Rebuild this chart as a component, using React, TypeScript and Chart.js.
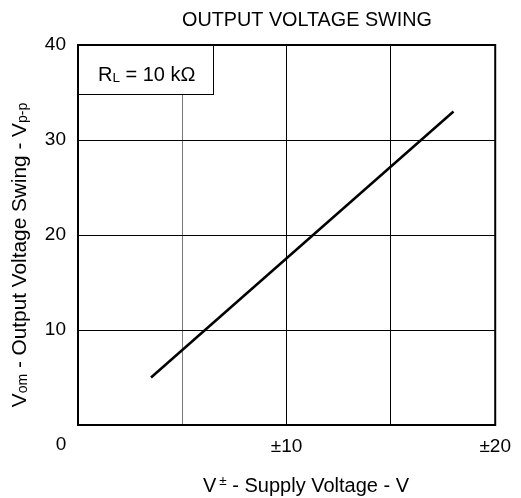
import { useEffect, useRef } from 'react';
import { Chart, registerables } from 'chart.js';

Chart.register(...registerables);

// ---- data ----
const supplyVoltage = [3.5, 18];
const outputSwing = [5, 33];
const xTickLabels: Record<number, string> = { 10: '±10', 20: '±20' };
const yTickLabels: Record<number, string> = { 10: '10', 20: '20', 30: '30', 40: '40' };
const chartTitle = 'OUTPUT VOLTAGE SWING';
const loadLabel = ['R', 'L', ' = 10 kΩ'];

const FONT = '"Liberation Sans", Arial, Helvetica, sans-serif';

type Seg = { t: string; size: number; dy: number; dx?: number };

function drawSegs(ctx: CanvasRenderingContext2D, segs: Seg[], x: number, y: number, align: 'left' | 'center') {
  let total = 0;
  const widths = segs.map((s) => {
    ctx.font = `${s.size}px ${FONT}`;
    const w = ctx.measureText(s.t).width + (s.dx || 0);
    total += w;
    return w;
  });
  let cx = align === 'center' ? x - total / 2 : x;
  ctx.textAlign = 'left';
  ctx.textBaseline = 'alphabetic';
  segs.forEach((s, i) => {
    ctx.font = `${s.size}px ${FONT}`;
    ctx.fillText(s.t, cx + (s.dx || 0), y + s.dy);
    cx += widths[i];
  });
}

const decorPlugin = {
  id: 'decor',
  afterDraw(chart: any) {
    const ctx: CanvasRenderingContext2D = chart.ctx;
    const { left, right, top, bottom } = chart.chartArea;
    ctx.save();
    ctx.fillStyle = '#000';

    // legend box
    ctx.fillStyle = '#fff';
    ctx.fillRect(left, top, 135, 49);
    ctx.strokeStyle = '#000';
    ctx.lineWidth = 1;
    ctx.strokeRect(left + 0.5, top + 0.5, 135, 49);
    ctx.fillStyle = '#000';
    drawSegs(
      ctx,
      [
        { t: loadLabel[0], size: 20, dy: 0 },
        { t: loadLabel[1], size: 13.5, dy: 1 },
        { t: loadLabel[2], size: 20, dy: 0 },
      ],
      left + 20,
      top + 36,
      'left'
    );

    // frame
    ctx.lineWidth = 2;
    ctx.strokeStyle = '#000';
    ctx.strokeRect(left, top, right - left, bottom - top);

    // title
    ctx.font = `19.8px ${FONT}`;
    ctx.textAlign = 'center';
    ctx.textBaseline = 'alphabetic';
    ctx.fillText(chartTitle, 307, 26);

    // x "0" tick
    ctx.font = `19px ${FONT}`;
    ctx.textAlign = 'center';
    ctx.textBaseline = 'middle';
    ctx.fillText('0', 61, 445);

    // x title
    drawSegs(
      ctx,
      [
        { t: 'V', size: 20, dy: 0 },
        { t: '±', size: 13.5, dy: -7, dx: 3 },
        { t: ' - Supply Voltage - V', size: 20, dy: 0 },
      ],
      306,
      492,
      'center'
    );

    // y title
    ctx.translate(26, 255);
    ctx.rotate(-Math.PI / 2);
    drawSegs(
      ctx,
      [
        { t: 'V', size: 20.8, dy: 0 },
        { t: 'om', size: 14, dy: 1 },
        { t: ' - Output Voltage Swing - V', size: 20.8, dy: 0 },
        { t: 'p-p', size: 14, dy: 1 },
      ],
      0,
      0,
      'center'
    );
    ctx.restore();
  },
};

export default function App() {
  const ref = useRef<HTMLCanvasElement | null>(null);
  useEffect(() => {
    if (!ref.current) return;
    const chart = new Chart(ref.current, {
      type: 'scatter',
      data: {
        datasets: [
          {
            data: supplyVoltage.map((x, i) => ({ x, y: outputSwing[i] })),
            showLine: true,
            borderColor: '#000',
            borderWidth: 2.5,
            pointRadius: 0,
            fill: false,
          },
        ],
      },
      options: {
        animation: false,
        responsive: false,
        layout: { padding: { top: 45, right: 24, left: 0, bottom: 0 } },
        plugins: { legend: { display: false }, tooltip: { enabled: false }, title: { display: false } },
        scales: {
          x: {
            type: 'linear',
            min: 0,
            max: 20,
            ticks: {
              stepSize: 5,
              autoSkip: false,
              maxRotation: 0,
              callback: (v: any) => xTickLabels[v as number] ?? '',
              color: '#000',
              font: { size: 19, family: FONT },
              padding: 10,
            },
            grid: {
              drawTicks: false,
              lineWidth: 1,
              color: (c: any) => {
                const v = c.tick?.value;
                if (v === 5) return '#777';
                if (v === 10 || v === 15) return '#000';
                return 'rgba(0,0,0,0)';
              },
            },
            border: { display: false },
            afterFit: (s: any) => {
              s.height = 73;
            },
          },
          y: {
            min: 0,
            max: 40,
            ticks: {
              stepSize: 10,
              callback: (v: any) => yTickLabels[v as number] ?? '',
              color: '#000',
              font: { size: 19, family: FONT },
              padding: 12,
            },
            grid: {
              drawTicks: false,
              lineWidth: 1,
              color: (c: any) => {
                const v = c.tick?.value;
                if (v === 10 || v === 20 || v === 30) return '#000';
                return 'rgba(0,0,0,0)';
              },
            },
            border: { display: false },
            afterFit: (s: any) => {
              s.width = 78;
            },
          },
        },
      },
      plugins: [decorPlugin],
    });
    return () => chart.destroy();
  }, []);
  return (
    <div style={{ position: 'absolute', left: 0, top: 0, width: 521, height: 498, background: '#fff' }}>
      <canvas ref={ref} width={521} height={498} style={{ width: 521, height: 498 }} />
    </div>
  );
}
